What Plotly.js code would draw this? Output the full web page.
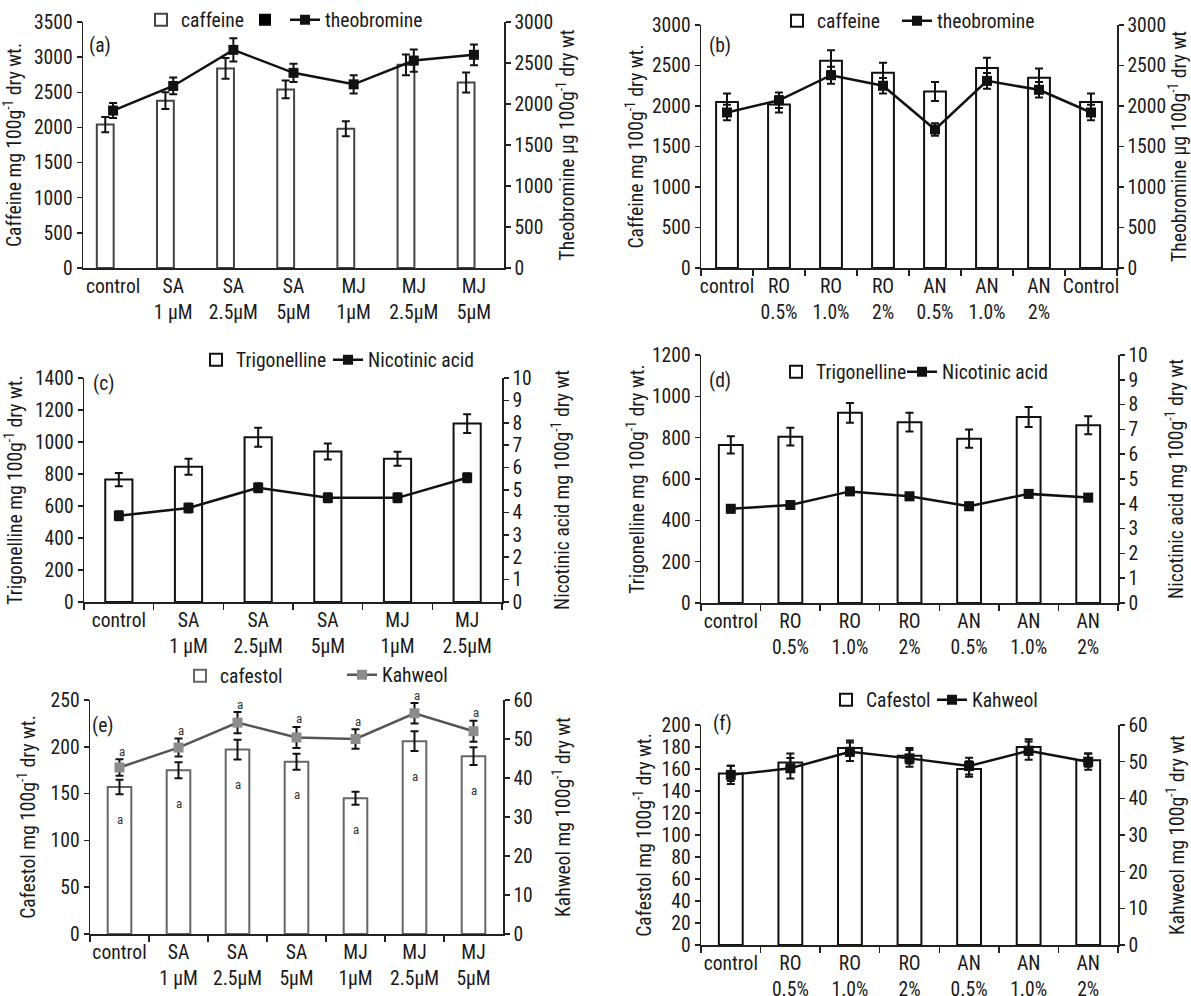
<!DOCTYPE html>
<html><head><meta charset="utf-8">
<script src="https://cdn.plot.ly/plotly-3.0.1.min.js"></script>
<style id="fs">html,body{margin:0;padding:0;background:#fff}</style>
</head><body><div id="chart" style="width:1191px;height:996px"></div>
<script>
// ---------------- data ----------------
const catsA = ["control","SA<br>1 µM","SA<br>2.5µM","SA<br>5µM","MJ<br>1µM","MJ<br>2.5µM","MJ<br>5µM"];
const catsB = ["control","RO<br>0.5%","RO<br>1.0%","RO<br>2%","AN<br>0.5%","AN<br>1.0%","AN<br>2%","Control"];
const catsC = ["control","SA<br>1 µM","SA<br>2.5µM","SA<br>5µM","MJ<br>1µM","MJ<br>2.5µM"];
const catsD = ["control","RO<br>0.5%","RO<br>1.0%","RO<br>2%","AN<br>0.5%","AN<br>1.0%","AN<br>2%"];

const caffeineA    = [2040, 2380, 2840, 2540, 1980, 2890, 2640];
const caffeineAErr = [107, 119, 147, 126, 107, 149, 142];
const theobromineA    = [1920, 2220, 2660, 2380, 2240, 2530, 2600];
const theobromineAErr = [91, 102, 142, 112, 112, 136, 126];

const caffeineB    = [2050, 2020, 2560, 2410, 2180, 2470, 2350, 2050];
const caffeineBErr = [104, 100, 129, 125, 117, 125, 112, 104];
const theobromineB    = [1920, 2070, 2380, 2250, 1710, 2310, 2200, 1920];
const theobromineBErr = [96, 96, 104, 96, 77, 96, 96, 96];

const trigonellineC    = [765, 845, 1030, 940, 895, 1115];
const trigonellineCErr = [41, 50, 59, 50, 44, 59];
const nicotinicC    = [3.85, 4.2, 5.1, 4.65, 4.65, 5.55];
const nicotinicCErr = [0.2, 0.2, 0.2, 0.2, 0.2, 0.2];

const trigonellineD    = [765, 805, 920, 875, 795, 900, 860];
const trigonellineDErr = [42, 43, 48, 45, 44, 48, 44];
const nicotinicD    = [3.8, 3.95, 4.5, 4.3, 3.9, 4.4, 4.25];
const nicotinicDErr = [0.15, 0.15, 0.15, 0.15, 0.15, 0.15, 0.15];

const cafestolE    = [157, 175, 197, 184, 145, 206, 190];
const cafestolEErr = [7.7, 8.5, 10.5, 8.5, 7, 10.5, 9.5];
const kahweolE    = [42.7, 47.8, 54.2, 50.4, 50.0, 56.6, 52.0];
const kahweolEErr = [2.1, 2.3, 2.7, 2.7, 2.5, 2.6, 2.7];
const kahweolELetters  = ["a","a","a","a","a","a","a"];
const cafestolELetters = ["a","a","a","a","a","a","a"];

const cafestolF    = [156, 166, 179, 172, 160, 180, 168];
const cafestolFErr = [7, 8, 7, 7, 7, 7, 6];
const kahweolF    = [46.4, 48.2, 52.7, 50.9, 48.8, 53.0, 50.0];
const kahweolFErr = [2.5, 2.8, 2.5, 2.3, 2.3, 2.5, 2.2];

// ---------------- font choice (narrow face if installed) ----------------
const ctx = document.createElement('canvas').getContext('2d');
function widthOf(fontStr, stretch, txt) {
  ctx.font = fontStr;
  try { ctx.fontStretch = stretch; } catch (e) {}
  return ctx.measureText(txt).width;
}
const SAMPLE = 'control 2.5µM 3500 Caffeine';
const mono = widthOf('21px monospace', 'normal', SAMPLE);
const candidates = [
  ['Liberation Sans Narrow', 'normal'], ['Arial Narrow', 'normal'],
  ['Roboto Condensed', 'normal'], ['Open Sans', 'condensed'], ['Noto Sans', 'condensed'],
  ['Roboto', 'condensed'], ['Liberation Sans', 'normal']
];
let chosen = ['Liberation Sans', 'normal'];
for (const [fam, st] of candidates) {
  const w = widthOf(`21px "${fam}", monospace`, st, SAMPLE);
  if (Math.abs(w - mono) < 0.5) continue;            // not installed
  if (st !== 'normal') {
    const wn = widthOf(`21px "${fam}", monospace`, 'normal', SAMPLE);
    if (w > wn * 0.95) continue;                     // no condensed face
  }
  chosen = [fam, st]; break;
}
const F = `"${chosen[0]}", "Liberation Sans", sans-serif`;
document.getElementById('fs').textContent += `#chart svg text{font-stretch:${chosen[1]} !important}`;
const cw = widthOf(`21px "${chosen[0]}"`, chosen[1], 'caffeine');
const FS = Math.max(15, Math.min(22, 21 * 63 / cw));

// ---------------- helpers ----------------
const W = 1191, H = 996;
const TXT = '#1a1a1a';
const xd = (a, b) => [a / W, b / W];
const yd = (top, bottom) => [1 - bottom / H, 1 - top / H];
const fnt = (s, c) => ({family: F, size: s, color: c || TXT});

function xAxis(dom, anchor, n, ticks) {
  return {domain: xd(dom[0], dom[1]), anchor: anchor, type: 'category',
    range: [-0.5, n - 0.5], showline: true, linecolor: '#222', linewidth: 1.5,
    ticks: ticks ? 'outside' : '', tickson: 'boundaries', ticklen: 6, tickwidth: 1.5, tickcolor: '#222',
    tickangle: 0, tickfont: fnt(FS), showgrid: false, zeroline: false, fixedrange: true};
}
function yLeft(dom, anchor, range, dtick, title, standoff) {
  return {domain: yd(dom[0], dom[1]), anchor: anchor, range: range, dtick: dtick,
    showline: true, linecolor: '#222', linewidth: 1.5, ticks: 'outside', ticklen: 5, tickwidth: 1.5, tickcolor: '#222',
    tickfont: fnt(FS), showgrid: false, zeroline: false, fixedrange: true,
    title: {text: title, font: fnt(FS), standoff: standoff}};
}
function yRight(over, anchor, range, dtick, title, standoff) {
  return {overlaying: over, side: 'right', anchor: anchor, range: range, dtick: dtick,
    showline: true, linecolor: '#222', linewidth: 1.5, ticks: 'outside', ticklen: 5, tickwidth: 1.5, tickcolor: '#222',
    tickfont: fnt(FS), showgrid: false, zeroline: false, fixedrange: true,
    title: {text: title, font: fnt(FS), standoff: standoff}};
}
function barTrace(x, y, err, name, xa, ya, leg, width, offset, lineColor) {
  const t = {type: 'bar', x: x, y: y, name: name, xaxis: xa, yaxis: ya, legend: leg,
    width: width, marker: {color: '#fff', line: {color: lineColor || '#111', width: 2}},
    error_y: {type: 'data', array: err, color: '#111', thickness: 2, width: 4}};
  if (offset !== undefined) t.offset = offset;
  return t;
}
function lineTrace(x, y, err, name, xa, ya, leg, lineColor, markerColor) {
  return {type: 'scatter', mode: 'lines+markers', x: x, y: y, name: name, xaxis: xa, yaxis: ya, legend: leg,
    line: {color: lineColor || '#111', width: 2.5},
    marker: {symbol: 'square', size: 10, color: markerColor || '#111'},
    error_y: {type: 'data', array: err, color: '#111', thickness: 2, width: 4}};
}
// legend placed so that its entry text starts at pixel x = textX, centred on pixel y
function legendAt(textX, y) {
  return {orientation: 'h', x: (textX - 32) / W, y: 1 - y / H, xanchor: 'left', yanchor: 'middle',
    bgcolor: 'rgba(0,0,0,0)', font: fnt(FS), itemwidth: 30, tracegroupgap: 0};
}

// ---------------- traces ----------------
const data = [
  // (a)
  barTrace(catsA, caffeineA, caffeineAErr, 'caffeine', 'x', 'y', 'legend', 0.28, -0.27, '#444'),
  {type: 'bar', x: catsA, y: catsA.map(() => null), name: ' ', xaxis: 'x', yaxis: 'y', legend: 'legend2',
   marker: {color: '#000'}, width: 0.28, offset: 0},
  lineTrace(catsA, theobromineA, theobromineAErr, 'theobromine', 'x', 'y7', 'legend3'),
  // (b)
  barTrace(catsB, caffeineB, caffeineBErr, 'caffeine', 'x2', 'y2', 'legend4', 0.42),
  lineTrace(catsB, theobromineB, theobromineBErr, 'theobromine', 'x2', 'y8', 'legend5'),
  // (c)
  barTrace(catsC, trigonellineC, trigonellineCErr, 'Trigonelline', 'x3', 'y3', 'legend6', 0.39),
  lineTrace(catsC, nicotinicC, nicotinicCErr, 'Nicotinic acid', 'x3', 'y9', 'legend7'),
  // (d)
  barTrace(catsD, trigonellineD, trigonellineDErr, 'Trigonelline', 'x4', 'y4', 'legend8', 0.40),
  lineTrace(catsD, nicotinicD, nicotinicDErr, 'Nicotinic acid', 'x4', 'y10', 'legend9'),
  // (e)
  barTrace(catsA, cafestolE, cafestolEErr, 'cafestol', 'x5', 'y5', 'legend10', 0.40, undefined, '#666'),
  lineTrace(catsA, kahweolE, kahweolEErr, 'Kahweol', 'x5', 'y11', 'legend11', '#555', '#8c8c8c'),
  // (f)
  barTrace(catsD, cafestolF, cafestolFErr, 'Cafestol', 'x6', 'y6', 'legend12', 0.40),
  lineTrace(catsD, kahweolF, kahweolFErr, 'Kahweol', 'x6', 'y12', 'legend13')
];

// ---------------- annotations ----------------
const ann = [];
[['(a)', 100, 45], ['(b)', 720, 45], ['(c)', 103, 383], ['(d)', 720, 380], ['(e)', 103, 725], ['(f)', 722, 723]]
  .forEach(([t, x, y]) => ann.push({text: t, xref: 'paper', yref: 'paper', x: x / W, y: 1 - y / H,
    xanchor: 'center', yanchor: 'middle', showarrow: false, font: fnt(FS)}));
catsA.forEach((c, i) => {
  ann.push({text: kahweolELetters[i], xref: 'x5', yref: 'y11', x: c, y: kahweolE[i] + kahweolEErr[i],
    yshift: 8, xshift: 2, yanchor: 'middle', showarrow: false, font: fnt(13, '#333')});
  ann.push({text: cafestolELetters[i], xref: 'x5', yref: 'y5', x: c, y: cafestolE[i] - cafestolEErr[i],
    yshift: -25, yanchor: 'middle', showarrow: false, font: fnt(13, '#333')});
});

// ---------------- layout ----------------
const Y = '100g<sup>-1</sup>';
const layout = {
  width: W, height: H, margin: {l: 0, r: 0, t: 0, b: 0},
  paper_bgcolor: '#fff', plot_bgcolor: 'rgba(0,0,0,0)', barmode: 'overlay', showlegend: true,
  font: fnt(FS),
  xaxis:  xAxis([83, 504], 'y', catsA.length, false),
  xaxis2: xAxis([701, 1117], 'y2', catsB.length, true),
  xaxis3: xAxis([84, 502], 'y3', catsC.length, true),
  xaxis4: xAxis([701, 1118], 'y4', catsD.length, true),
  xaxis5: xAxis([90, 503], 'y5', catsA.length, true),
  xaxis6: xAxis([701, 1118], 'y6', catsD.length, true),
  yaxis:  yLeft([22, 268], 'x', [0, 3500], 500, 'Caffeine mg ' + Y + ' dry wt.', 8),
  yaxis2: yLeft([25, 268], 'x2', [0, 3000], 500, 'Caffeine mg ' + Y + ' dry wt.', 3),
  yaxis3: yLeft([378, 602], 'x3', [0, 1400], 200, 'Trigonelline mg ' + Y + ' dry wt.', 7),
  yaxis4: yLeft([355, 603], 'x4', [0, 1200], 200, 'Trigonelline mg ' + Y + ' dry wt.', 2),
  yaxis5: yLeft([700, 934], 'x5', [0, 250], 50, 'Cafestol mg ' + Y + ' dry wt.', 9),
  yaxis6: yLeft([725, 945], 'x6', [0, 200], 20, 'Cafestol mg ' + Y + ' dry wt.', 4),
  yaxis7:  yRight('y', 'x', [0, 3000], 500, 'Theobromine µg ' + Y + ' dry wt', 6),
  yaxis8:  yRight('y2', 'x2', [0, 3000], 500, 'Theobromine µg ' + Y + ' dry wt', 6),
  yaxis9:  yRight('y3', 'x3', [0, 10], 1, 'Nicotinic acid mg ' + Y + ' dry wt', 24),
  yaxis10: yRight('y4', 'x4', [0, 10], 1, 'Nicotinic acid mg ' + Y + ' dry wt', 22),
  yaxis11: yRight('y5', 'x5', [0, 60], 10, 'Kahweol mg ' + Y + ' dry wt', 24),
  yaxis12: yRight('y6', 'x6', [0, 60], 10, 'Kahweol mg ' + Y + ' dry wt', 23),
  legend:   legendAt(173, 20),
  legend2:  legendAt(277, 20),
  legend3:  legendAt(317, 20),
  legend4:  legendAt(809, 21),
  legend5:  legendAt(929, 21),
  legend6:  legendAt(228, 360),
  legend7:  legendAt(360, 360),
  legend8:  legendAt(808, 372),
  legend9:  legendAt(934, 372),
  legend10: legendAt(212, 676),
  legend11: legendAt(374, 675),
  legend12: legendAt(858, 700),
  legend13: legendAt(964, 700),
  annotations: ann
};

Plotly.newPlot('chart', data, layout, {displayModeBar: false, staticPlot: true});
</script></body></html>
